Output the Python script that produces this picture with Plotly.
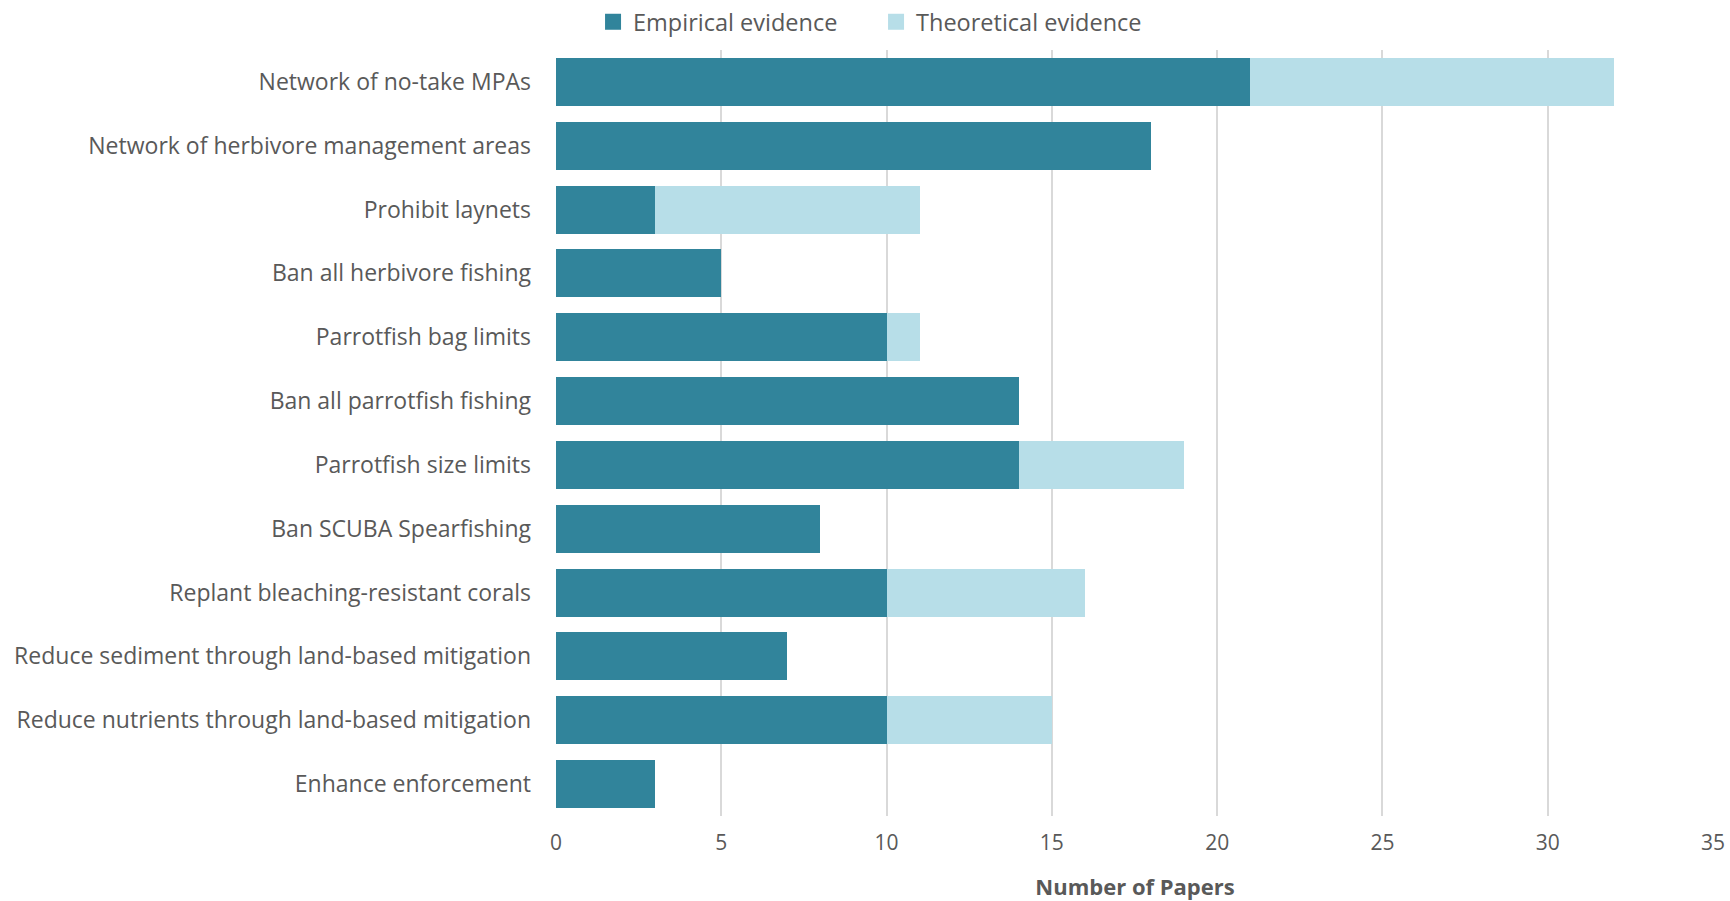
import plotly.graph_objects as go

categories = [
    "Network of no-take MPAs",
    "Network of herbivore management areas",
    "Prohibit laynets",
    "Ban all herbivore fishing",
    "Parrotfish bag limits",
    "Ban all parrotfish fishing",
    "Parrotfish size limits",
    "Ban SCUBA Spearfishing",
    "Replant bleaching-resistant corals",
    "Reduce sediment through land-based mitigation",
    "Reduce nutrients through land-based mitigation",
    "Enhance enforcement",
]
empirical = [21, 18, 3, 5, 10, 14, 14, 8, 10, 7, 10, 3]
theoretical = [11, 0, 8, 0, 1, 0, 5, 0, 6, 0, 5, 0]
x_ticks = [0, 5, 10, 15, 20, 25, 30, 35]
series_names = ["Empirical evidence", "Theoretical evidence"]

DARK = "#31849B"
LIGHT = "#B7DEE8"
TXT = "#595959"
FONT = "Open Sans, sans-serif"

fig = go.Figure()
fig.add_trace(go.Bar(y=categories, x=empirical, name=series_names[0], orientation="h",
                     marker=dict(color=DARK, line=dict(width=0)), showlegend=False))
fig.add_trace(go.Bar(y=categories, x=theoretical, name=series_names[1], orientation="h",
                     marker=dict(color=LIGHT, line=dict(width=0)), showlegend=False))
# legend entries with larger square swatches
for nm, col in zip(series_names, [DARK, LIGHT]):
    fig.add_trace(go.Scatter(x=[None], y=[None], mode="markers", name=nm,
                             marker=dict(symbol="square", size=16, color=col)))

fig.update_layout(
    width=1730, height=901,
    barmode="stack", bargap=0.25,
    plot_bgcolor="white", paper_bgcolor="white",
    margin=dict(l=556, r=16, t=50, b=85, autoexpand=False),
    font=dict(family=FONT, color=TXT, size=23),
    legend=dict(orientation="h", xref="container", yref="container", x=0.3428, y=0.9756,
                xanchor="left", yanchor="middle", font=dict(size=23.5, color=TXT),
                itemwidth=30, traceorder="normal", entrywidth=238, itemsizing="trace"),
    xaxis=dict(range=[0, 35.03], tickvals=x_ticks, showgrid=True, gridcolor="#D9D9D9", gridwidth=1.5,
               zeroline=False, showline=False, ticks="", automargin=True,
               ticklabeloverflow="allow",
               tickfont=dict(size=21, color=TXT), ticklabelstandoff=12,
               title=dict(text="<b>Number of Papers</b>", font=dict(size=22, color=TXT), standoff=24)),
    yaxis=dict(categoryorder="array", categoryarray=categories[::-1], autorange=True,
               showgrid=False, zeroline=False, ticks="", ticklabelstandoff=24, automargin=False,
               tickfont=dict(size=23, color=TXT)),
)

fig.write_html("out.html",
               config={"displayModeBar": False},
               post_script="document.body.style.margin='0';document.body.style.overflow='hidden';")
